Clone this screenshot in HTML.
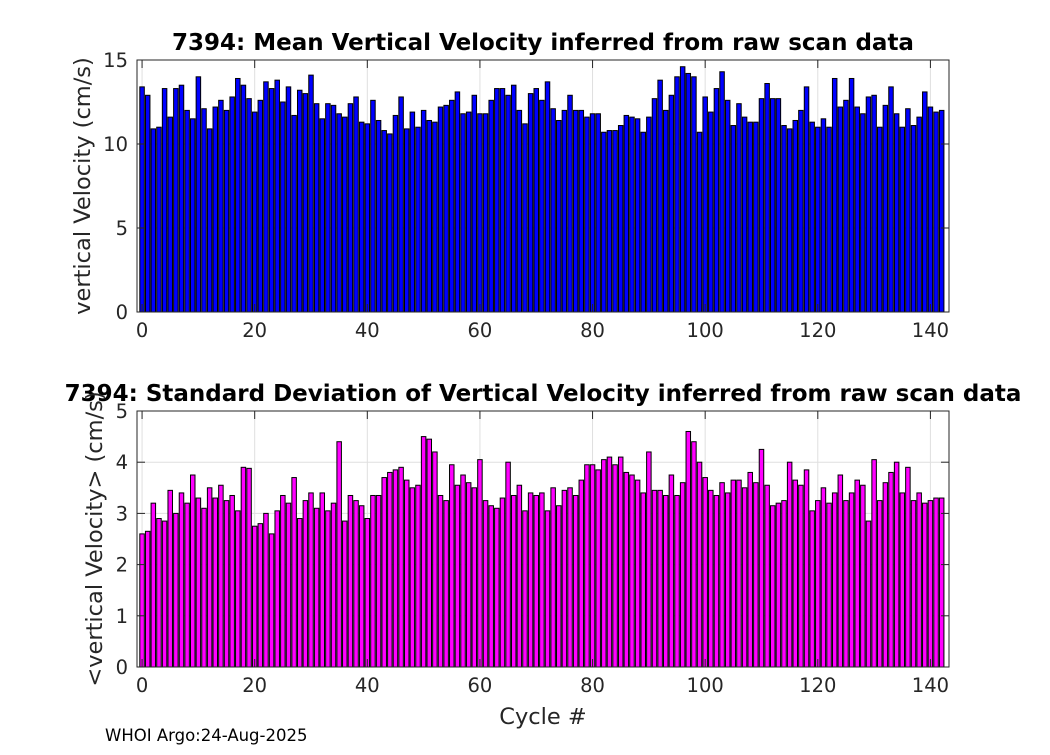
<!DOCTYPE html>
<html><head><meta charset="utf-8"><style>
body{margin:0;background:#fff;width:1050px;height:750px;overflow:hidden}
svg text{font-family:"DejaVu Sans","Liberation Sans",sans-serif;fill:#262626}
</style></head><body>
<svg id="c" width="1050" height="750"></svg>
<script>
const cycles=[];for(let i=0;i<143;i++)cycles.push(i);
const meanVel=[13.4,12.9,10.9,11.0,13.3,11.6,13.3,13.5,12.0,11.5,14.0,12.1,10.9,12.2,12.6,12.0,12.8,13.9,13.5,12.7,11.9,12.6,13.7,13.3,13.8,12.5,13.4,11.7,13.2,13.0,14.1,12.4,11.5,12.4,12.3,11.8,11.6,12.4,12.8,11.3,11.2,12.6,11.4,10.8,10.6,11.7,12.8,10.9,11.9,11.0,12.0,11.4,11.3,12.2,12.3,12.6,13.1,11.8,11.9,12.9,11.8,11.8,12.6,13.3,13.3,12.9,13.5,12.0,11.2,13.0,13.3,12.6,13.7,12.1,11.4,12.0,12.9,12.0,12.0,11.6,11.8,11.8,10.7,10.8,10.8,11.1,11.7,11.6,11.5,10.7,11.6,12.7,13.8,12.0,12.9,14.0,14.6,14.2,14.0,10.7,12.8,11.9,13.3,14.3,12.6,11.1,12.4,11.6,11.3,11.3,12.7,13.6,12.7,12.7,11.1,10.9,11.4,12.0,13.4,11.3,11.0,11.5,11.0,13.9,12.2,12.6,13.9,12.2,11.8,12.8,12.9,11.0,12.3,13.4,11.8,11.0,12.1,11.1,11.6,13.1,12.2,11.9,12.0];
const stdVel=[2.6,2.65,3.2,2.9,2.85,3.45,3.0,3.4,3.2,3.75,3.3,3.1,3.5,3.3,3.55,3.25,3.35,3.05,3.9,3.88,2.75,2.8,3.0,2.6,3.05,3.35,3.2,3.7,2.9,3.25,3.4,3.1,3.4,3.05,3.2,4.4,2.85,3.35,3.25,3.15,2.9,3.35,3.35,3.7,3.8,3.85,3.9,3.65,3.5,3.55,4.5,4.45,4.2,3.35,3.25,3.95,3.55,3.75,3.6,3.5,4.05,3.25,3.15,3.1,3.3,4.0,3.35,3.55,3.05,3.4,3.35,3.4,3.05,3.5,3.15,3.45,3.5,3.35,3.65,3.95,3.95,3.85,4.05,4.1,3.95,4.1,3.8,3.75,3.65,3.4,4.2,3.45,3.45,3.35,3.75,3.35,3.6,4.6,4.4,4.0,3.7,3.45,3.35,3.6,3.4,3.65,3.65,3.5,3.8,3.6,4.25,3.55,3.15,3.2,3.25,4.0,3.65,3.55,3.85,3.05,3.25,3.5,3.2,3.4,3.75,3.25,3.4,3.65,3.55,2.85,4.05,3.25,3.6,3.8,4.0,3.4,3.9,3.25,3.4,3.2,3.25,3.3,3.3];
const xTicks=[0,20,40,60,80,100,120,140];
const topYTicks=[0,5,10,15];
const botYTicks=[0,1,2,3,4,5];
const svg=document.getElementById('c');
const NS='http://www.w3.org/2000/svg';
function mk(t,a,p){const e=document.createElementNS(NS,t);for(const k in a)e.setAttribute(k,a[k]);(p||svg).appendChild(e);return e;}
function panel(o){
  const g=mk('g',{});
  
  
  const X=v=>o.x0+(v-(-0.9))/(143.3+0.9)*(o.x1-o.x0);
  const Y=v=>o.y1-(v-0)/(o.ymax)*(o.y1-o.y0);
  mk('rect',{x:o.x0,y:o.y0,width:o.x1-o.x0,height:o.y1-o.y0,fill:'#fff'},g);
  xTicks.forEach(t=>{mk('line',{x1:X(t),x2:X(t),y1:o.y0,y2:o.y1,stroke:'#dfdfdf'},g);});
  o.yt.forEach(t=>{mk('line',{x1:o.x0,x2:o.x1,y1:Y(t),y2:Y(t),stroke:'#dfdfdf'},g);});
  o.data.forEach((v,i)=>{
    const b=mk('rect',{x:X(cycles[i])-2.25,y:Y(v),width:4.5,height:Y(0)-Y(v),fill:o.color,stroke:'#000','stroke-width':1},g);
    
    
  });
  mk('rect',{x:o.x0,y:o.y0,width:o.x1-o.x0,height:o.y1-o.y0,fill:'none',stroke:'#262626'},g);
  xTicks.forEach(t=>{
    mk('line',{x1:X(t),x2:X(t),y1:o.y1,y2:o.y1-8,stroke:'#262626'},g);
    mk('line',{x1:X(t),x2:X(t),y1:o.y0,y2:o.y0+8,stroke:'#262626'},g);
    const tx=mk('text',{x:X(t),y:o.y1+25,'text-anchor':'middle','font-size':19.5},g);tx.textContent=t;
    
    
  });
  o.yt.forEach(t=>{
    mk('line',{x1:o.x0,x2:o.x0+8,y1:Y(t),y2:Y(t),stroke:'#262626'},g);
    mk('line',{x1:o.x1,x2:o.x1-8,y1:Y(t),y2:Y(t),stroke:'#262626'},g);
    const tx=mk('text',{x:o.x0-9,y:Y(t)+7,'text-anchor':'end','font-size':19.5},g);tx.textContent=t;
    
    
  });
  const ti=mk('text',{x:o.tx,y:o.y0-10,'text-anchor':'middle','font-size':23,'font-weight':'bold',fill:'#000'},g);ti.textContent=o.title;ti.style.fill='#000';
  
  
  const yl=mk('text',{x:0,y:0,'text-anchor':'middle','font-size':22.5,transform:`translate(${o.ylx},${(o.y0+o.y1)/2}) rotate(-90)`},g);yl.textContent=o.ylabel;
  
  
}
panel({name:'mean-velocity-panel',x0:137,x1:949,y0:60,y1:312,ymax:15,yt:topYTicks,data:meanVel,color:'#0000ff',title:'7394: Mean Vertical Velocity inferred from raw scan data',tx:543,ylabel:'vertical Velocity (cm/s)',ylx:90});
panel({name:'std-velocity-panel',x0:137,x1:949,y0:411,y1:667,ymax:5,yt:botYTicks,data:stdVel,color:'#ff00ff',title:'7394: Standard Deviation of Vertical Velocity inferred from raw scan data',tx:543,ylabel:'<vertical Velocity> (cm/s)',ylx:102});
const xl=mk('text',{x:543,y:724,'text-anchor':'middle','font-size':22.5});xl.textContent='Cycle #';


const ft=mk('text',{x:105,y:741,'font-size':16.5,fill:'#000'});ft.textContent='WHOI Argo:24-Aug-2025';ft.style.fill='#000';


</script>
</body></html>
